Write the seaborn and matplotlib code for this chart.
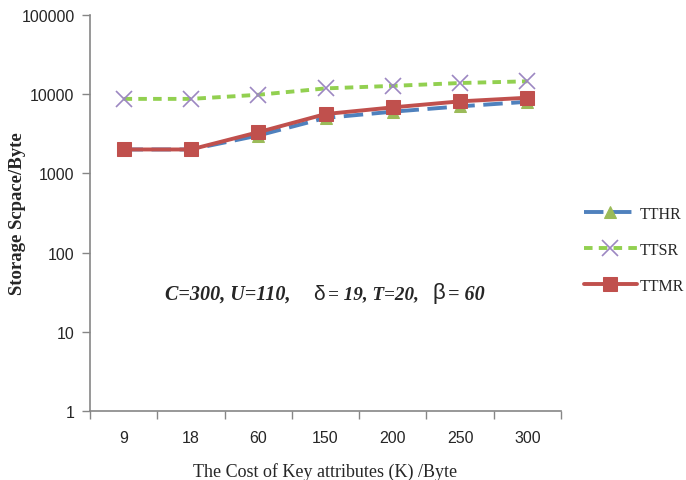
import matplotlib
matplotlib.use("Agg")
import matplotlib.pyplot as plt
import pandas as pd
import seaborn as sns

# data
cost = ["9", "18", "60", "150", "200", "250", "300"]
tthr = [2000, 2000, 3000, 5000, 6000, 7000, 8000]
ttsr = [8700, 8700, 9800, 11800, 12700, 13800, 14500]
ttmr = [2000, 2000, 3300, 5600, 6800, 8100, 9000]

df = pd.DataFrame({"cost": cost, "TTHR": tthr, "TTSR": ttsr, "TTMR": ttmr})

sns.set_style("white")
plt.rcParams["font.family"] = ["Liberation Sans", "DejaVu Sans"]

fig = plt.figure(figsize=(6.86, 4.81), dpi=100)
ax = fig.add_axes([0.131, 0.1435, 0.687, 0.8235])

sns.lineplot(data=df, x="cost", y="TTHR", ax=ax, color="#4F81BD", lw=2.8,
             label="TTHR", marker="^", markersize=9,
             markerfacecolor="#9BBB59", markeredgecolor="#9BBB59",
             linestyle=(0, (5, 2.2)))
sns.lineplot(data=df, x="cost", y="TTSR", ax=ax, color="#92D050", lw=2.8,
             label="TTSR", marker="x", markersize=11, markeredgewidth=1.2,
             markeredgecolor="#9C87C2", linestyle=(0, (2.2, 1.6)))
sns.lineplot(data=df, x="cost", y="TTMR", ax=ax, color="#C0504D", lw=2.8,
             label="TTMR", marker="s", markersize=10,
             markerfacecolor="#C0504D", markeredgecolor="#C0504D")

ax.set_yscale("log")
ax.set_ylim(1, 100000)
ax.set_xlim(-0.5, 6.5)
ax.set_yticks([1, 10, 100, 1000, 10000, 100000])
ax.set_yticklabels(["1", "10", "100", "1000", "10000", "100000"], fontsize=11.5)
ax.yaxis.set_minor_locator(matplotlib.ticker.NullLocator())
ax.set_xticks(range(len(cost)))
ax.set_xticklabels(cost, fontsize=11.5)
ax.tick_params(axis="x", length=0, pad=14)
ax.tick_params(axis="y", length=6, color="#868686", left=True, width=1, pad=5)
# Excel-style ticks between categories
ax.set_xticks([i - 0.5 for i in range(len(cost) + 1)], minor=True)
ax.tick_params(axis="x", which="minor", length=6, color="#868686", bottom=True, width=1)

for s in ["top", "right"]:
    ax.spines[s].set_visible(False)
for s in ["left", "bottom"]:
    ax.spines[s].set_color("#868686")
    ax.spines[s].set_linewidth(1.2)

ax.set_xlabel("The Cost of Key attributes (K) /Byte", family="Liberation Serif",
              fontsize=13, labelpad=12)
ax.set_ylabel("Storage Scpace/Byte", family="Liberation Serif", fontsize=13.5,
              fontweight="bold")
ax.yaxis.set_label_coords(-0.135, 0.5)

# parameter annotation
bi = dict(family="Liberation Serif", fontweight="bold", style="italic",
          fontsize=14.5, va="center", transform=fig.transFigure)
fig.text(165 / 686, 1 - 295 / 481, "C=300, U=110,", **bi)
fig.text(313 / 686, 1 - 294 / 481, "δ", family="Liberation Sans", fontsize=15,
         va="center", transform=fig.transFigure)
fig.text(328 / 686, 1 - 295 / 481, "= 19, T=20,",
         **{**bi, "fontsize": 13.8})
fig.text(433 / 686, 1 - 294 / 481, "β", family="Liberation Sans", fontsize=16,
         va="center", transform=fig.transFigure)
fig.text(448 / 686, 1 - 295 / 481, "= 60", **bi)

leg = ax.legend(loc="center left", bbox_to_anchor=(584 / 686, 1 - 251 / 481),
                bbox_transform=fig.transFigure, frameon=False,
                prop={"family": "Liberation Serif", "size": 11.5},
                handlelength=3.3, handletextpad=0.2, labelspacing=1.25,
                borderaxespad=0, borderpad=0)

fig.savefig("out.png", dpi=100)
